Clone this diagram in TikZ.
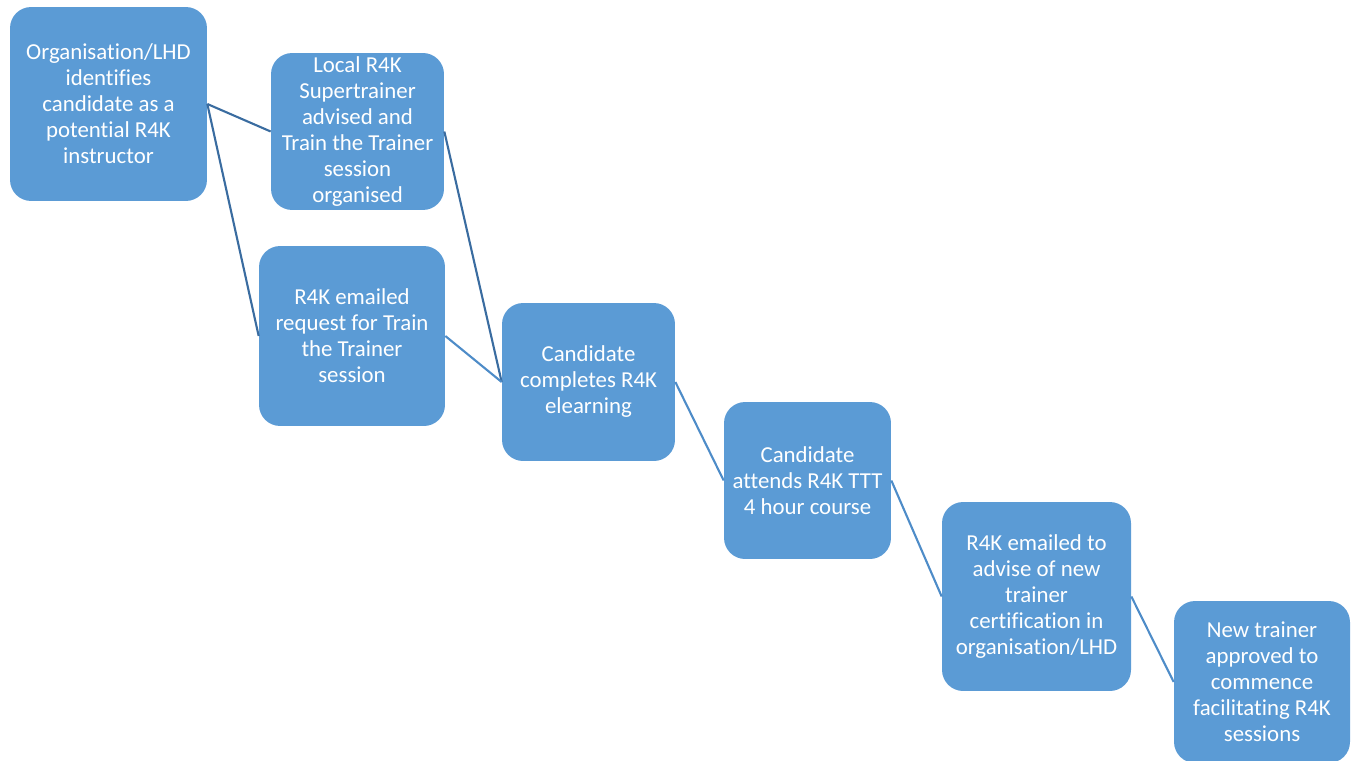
\documentclass[tikz,border=0pt]{standalone}
\usepackage{fontspec}
\setmainfont{Carlito}[Ligatures={NoCommon}]
\usepackage{xcolor}
\usepackage{tikz}
\definecolor{stepblue}{RGB}{91, 155, 213}
\definecolor{linkdark}{RGB}{58, 108, 160}
\definecolor{linklight}{RGB}{78, 140, 200}
\usetikzlibrary{positioning}

\begin{document}
\begin{tikzpicture}[
        x=0.02cm, y=-0.02cm,
        stepbox/.style={rectangle, draw=none, fill=stepblue, text=white,
                    align=center, rounded corners=12pt, inner sep=0pt,
                    font=\fontsize{13}{14.8}\selectfont},
        link/.style={line width=1.2pt, linkdark},
        linklite/.style={line width=1.2pt, linklight}
    ]
        \useasboundingbox (0,0) rectangle (1354,760);
        \clip (0,0) rectangle (1354,760);

        \node[stepbox, minimum width=3.94cm, minimum height=3.88cm] (identify) at (108.5,104) {Organisation/LHD\\identifies\\candidate as a\\potential R4K\\instructor};
        \node[stepbox, minimum width=3.46cm, minimum height=3.14cm] (supertrainer) at (357.5,131.5) {Local R4K\\Supertrainer\\advised and\\Train the Trainer\\session\\organised};
        \node[stepbox, minimum width=3.72cm, minimum height=3.6cm] (request) at (352,336) {R4K emailed\\request for Train\\the Trainer\\session};
        \node[stepbox, minimum width=3.46cm, minimum height=3.16cm] (elearning) at (588.5,382) {Candidate\\completes R4K\\elearning};
        \node[stepbox, minimum width=3.34cm, minimum height=3.14cm] (course) at (807.5,480.5) {Candidate\\attends R4K TTT\\4 hour course};
        \node[stepbox, minimum width=3.78cm, minimum height=3.78cm] (advise) at (1036.5,596.5) {R4K emailed to\\advise of new\\trainer\\certification in\\organisation/LHD};
        \node[stepbox, minimum width=3.52cm, minimum height=3.24cm] (approved) at (1262,682) {New trainer\\approved to\\commence\\facilitating R4K\\sessions};

        \draw[link] (identify.east) -- (supertrainer.west);
        \draw[link] (identify.east) -- (request.west);
        \draw[link] (supertrainer.east) -- (elearning.west);
        \draw[linklite] (request.east) -- (elearning.west);
        \draw[linklite] (elearning.east) -- (course.west);
        \draw[linklite] (course.east) -- (advise.west);
        \draw[linklite] (advise.east) -- (approved.west);
    \end{tikzpicture}
\end{document}
